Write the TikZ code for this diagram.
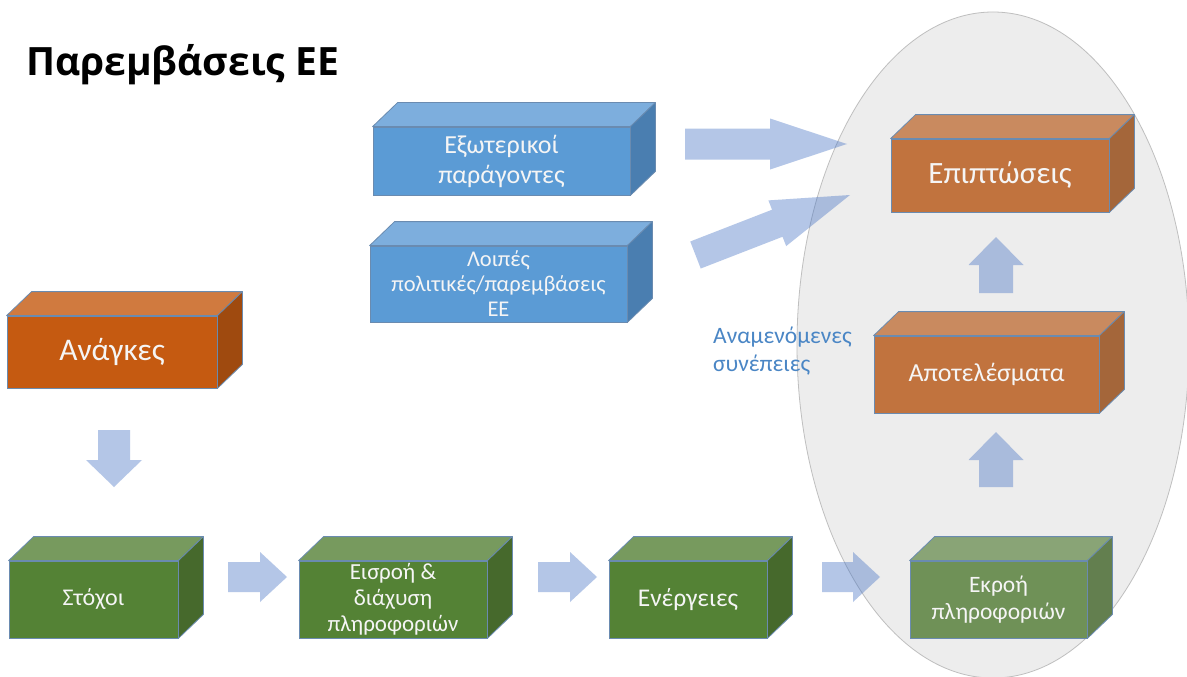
\documentclass[tikz,border=0pt]{standalone}
\usepackage{fontspec}
\setmainfont{Carlito}
\newfontfamily\titlefont{Open Sans}
\usetikzlibrary{calc,shapes.geometric}
\definecolor{edgecol}{HTML}{6A8BB0}
\definecolor{bluef}{HTML}{5B9BD5}\definecolor{bluet}{HTML}{7DAEDD}\definecolor{blues}{HTML}{4A7EB0}
\definecolor{orf}{HTML}{C55A11}\definecolor{ort}{HTML}{D07A3F}\definecolor{ors}{HTML}{9F4A0F}
\definecolor{olf}{HTML}{C1733E}\definecolor{olt}{HTML}{C98A5F}\definecolor{ols}{HTML}{A4663A}
\definecolor{grf}{HTML}{548235}\definecolor{grt}{HTML}{779A5E}\definecolor{grs}{HTML}{46692C}
\definecolor{glf}{HTML}{6F9157}\definecolor{glt}{HTML}{89A476}\definecolor{gls}{HTML}{637F4F}
\definecolor{arrowcol}{HTML}{4472C4}
\definecolor{ellfill}{HTML}{EDEDED}\definecolor{elldraw}{HTML}{BFBFBF}
\definecolor{notecol}{HTML}{4A86C5}
\tikzset{
  cubefront/.style={draw=edgecol, line width=0.8pt, inner sep=2pt, align=center, text=white!96!black},
  cubeedge/.style={draw=edgecol, line width=0.8pt, line join=round},
  arrowfill/.style={fill=arrowcol, fill opacity=0.4},
}
% #1 name, #2 centre, #3 width, #4 height, #5 colour prefix, #6 font size, #7 line spacing, #8 text
\newcommand\cubenode[8]{%
  \node[cubefront, fill=#5f, minimum width=#3pt, minimum height=#4pt, font=\fontsize{#6}{#7}\selectfont] (#1) at #2 {#8};
  \filldraw[cubeedge, fill=#5t] (#1.north west) -- ++(25,-24) -- ($(#1.north east)+(25,-24)$) -- (#1.north east) -- cycle;
  \filldraw[cubeedge, fill=#5s] (#1.north east) -- ++(25,-24) -- ($(#1.south east)+(25,-24)$) -- (#1.south east) -- cycle;
}
% #1 start, #2 end, #3 half shaft, #4 half head, #5 head length
\newcommand\blockarrow[5]{%
  \coordinate (#1h) at ($(#2)!#5!(#1)$);
  \fill[arrowfill] ($(#1)!#3!90:(#2)$) -- ($(#1h)!#3!90:(#2)$) -- ($(#1h)!#4!90:(#2)$) -- (#2)
    -- ($(#1h)!#4!-90:(#2)$) -- ($(#1h)!#3!-90:(#2)$) -- ($(#1)!#3!-90:(#2)$) -- cycle;
}
\begin{document}
\begin{tikzpicture}[x=1pt,y=-1pt]
\useasboundingbox (0,0) rectangle (1187,677);
\fill[white] (0,0) rectangle (1187,677);
% ellipse
\node[ellipse, draw=elldraw, fill=ellfill, line width=0.8pt, minimum width=392pt, minimum height=666pt, inner sep=0] (ell) at (993,345) {};
% title
\node[anchor=base west, inner sep=0, font=\titlefont\bfseries\fontsize{39}{41}\selectfont] (title) at (26,76) {Παρεμβάσεις ΕΕ};
% note
\node[anchor=north west, inner sep=0, align=left, text=notecol, font=\fontsize{23.5}{28}\selectfont] (note) at (713,327) {Αναμενόμενες\\συνέπειες};
% boxes
\cubenode{ext}{(501.5,161)}{257}{68}{blue}{26}{30}{Εξωτερικοί\\παράγοντες}
\cubenode{oth}{(498.5,284)}{257}{76}{blue}{22.5}{25}{Λοιπές\\πολιτικές/παρεμβάσεις\\ΕΕ}
\cubenode{needs}{(112,352)}{210}{72}{or}{31.5}{36}{Ανάγκες}
\cubenode{goals}{(93.5,599.5)}{169}{77}{gr}{24}{28}{Στόχοι}
\cubenode{inp}{(393,599.5)}{188}{77}{gr}{23}{26}{Εισροή \&\\διάχυση\\πληροφοριών}
\cubenode{act}{(688,599.5)}{158}{77}{gr}{25.5}{30}{Ενέργειες}
\cubenode{outp}{(998.5,599.5)}{177}{77}{gl}{23.5}{27}{Εκροή\\πληροφοριών}
\cubenode{res}{(986.5,374.5)}{225}{77}{ol}{26}{30}{Αποτελέσματα}
\cubenode{imp}{(1000,175.5)}{218}{73}{ol}{31}{36}{Επιπτώσεις}
% arrows
\coordinate (a1) at (685,144); \coordinate (b1) at (847,144);
\coordinate (a2) at (695.5,255); \coordinate (b2) at (850,195);
\coordinate (a3) at (114,430); \coordinate (b3) at (114,487);
\coordinate (a4) at (228,577); \coordinate (b4) at (287,577);
\coordinate (a5) at (538,577); \coordinate (b5) at (597,577);
\coordinate (a6) at (822,577); \coordinate (b6) at (880,577);
\coordinate (a7) at (996,487); \coordinate (b7) at (996,432);
\coordinate (a8) at (996,293); \coordinate (b8) at (996,237);
\blockarrow{a1}{b1}{15.5pt}{25.5pt}{77pt}
\blockarrow{a2}{b2}{14.5pt}{24.5pt}{78pt}
\blockarrow{a3}{b3}{16pt}{28pt}{27pt}
\blockarrow{a4}{b4}{15pt}{25pt}{27pt}
\blockarrow{a5}{b5}{15pt}{25pt}{27pt}
\blockarrow{a6}{b6}{15pt}{25pt}{27pt}
\blockarrow{a7}{b7}{17pt}{27.5pt}{28pt}
\blockarrow{a8}{b8}{17pt}{27.5pt}{28pt}
\end{tikzpicture}
\end{document}
